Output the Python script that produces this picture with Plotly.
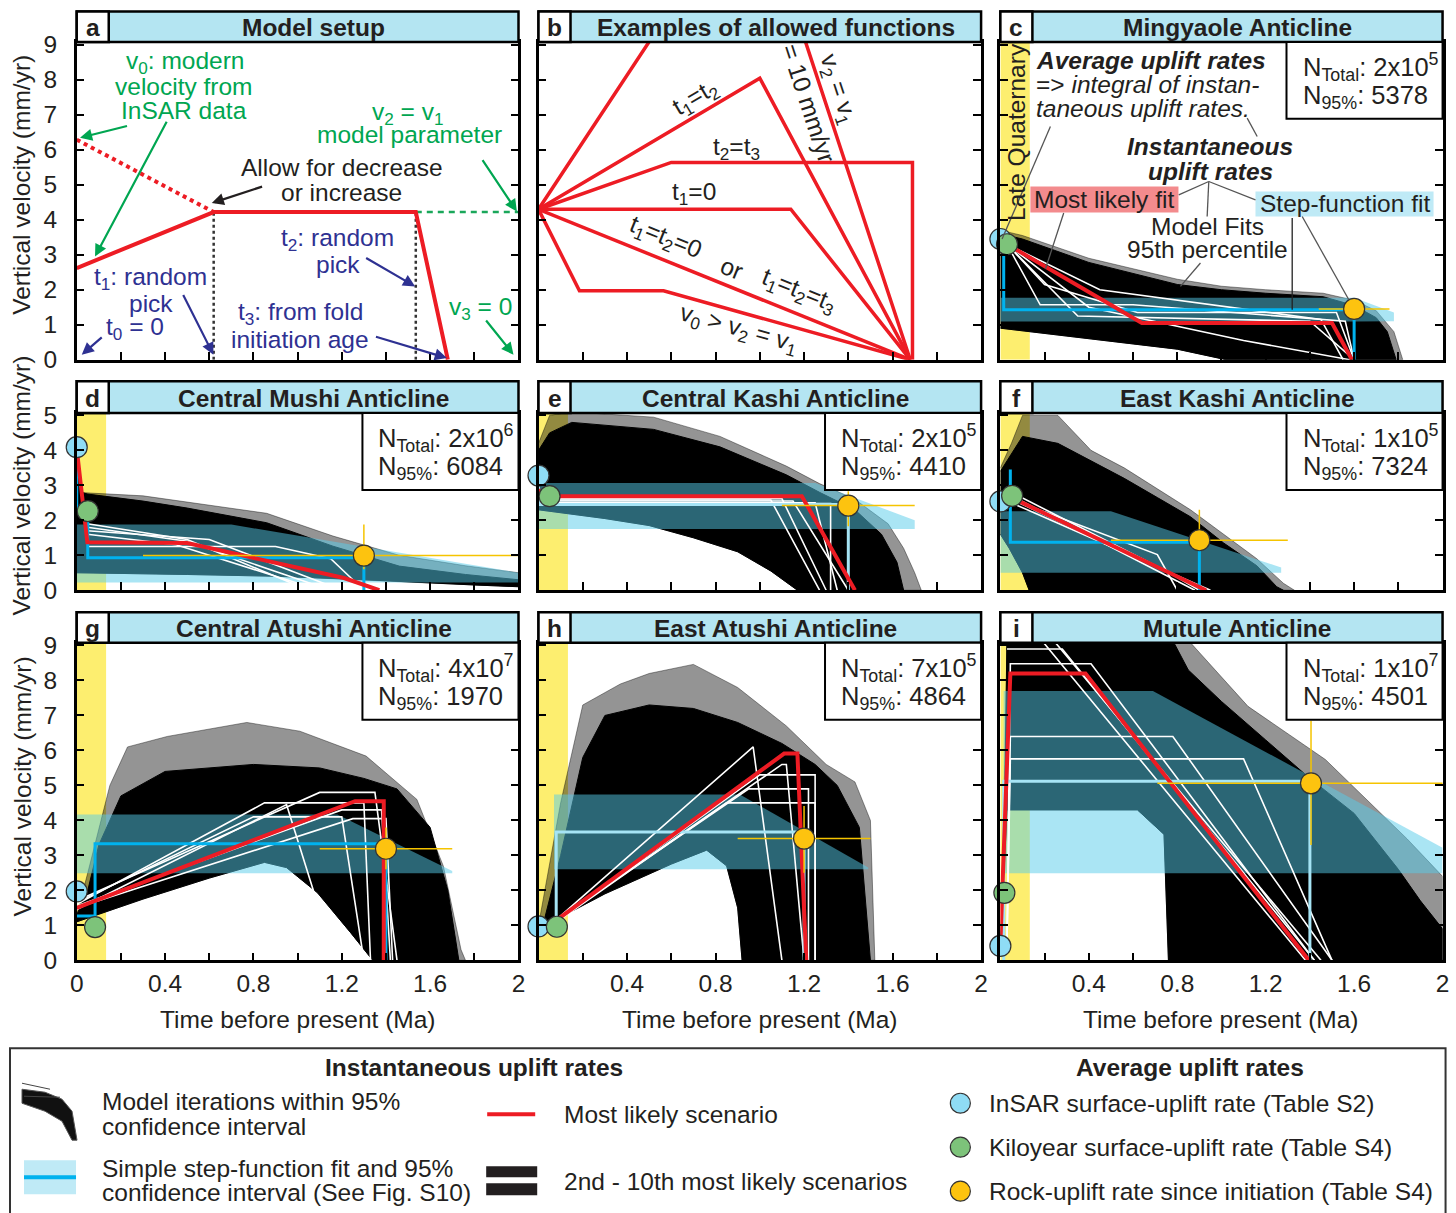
import plotly.graph_objects as go

W, H = 1456, 1213
# mapping between the photographed picture and page pixels (measured)
SX, OX = 0.990, 7.0
SY, OY = 0.980, 11.1
FONT = "Liberation Sans, Arial, Helvetica, sans-serif"
FS = 24.5
TXT = "#231f20"
GREEN_T = "#00a651"
BLUE_T = "#2e3192"
RED = "#ed1c24"
BAR_BLUE = "#b4e5f2"
BAND_FILL = "rgba(86,204,234,0.5)"
HALO_FILL = "rgba(0,0,0,0.42)"
YELLOW_LQ = "#fdee6f"

# ---------------- data ----------------
PANEL_LETTERS = ["a", "b", "c", "d", "e", "f", "g", "h", "i"]
PANEL_TITLES = ["Model setup", "Examples of allowed functions", "Mingyaole Anticline",
                "Central Mushi Anticline", "Central Kashi Anticline", "East Kashi Anticline",
                "Central Atushi Anticline", "East Atushi Anticline", "Mutule Anticline"]
X_TICKS = [0, 0.2, 0.4, 0.6, 0.8, 1.0, 1.2, 1.4, 1.6, 1.8, 2.0]
X_TICK_LABELS = ["0", "", "0.4", "", "0.8", "", "1.2", "", "1.6", "", "2"]
Y_TICKS_TALL = [0, 1, 2, 3, 4, 5, 6, 7, 8, 9]
Y_TICKS_SHORT = [0, 1, 2, 3, 4, 5]

# panel a: model setup
SETUP_T = [0, 0.62, 1.535, 1.68]
SETUP_V = [2.62, 4.22, 4.22, 0]
V0_T = [0, 0.62]
V0_V = [6.29, 4.22]
V2_T = [1.535, 2.0]
V2_V = [4.22, 4.22]
T1_T = [0.62, 0.62]
T2_T = [1.535, 1.535]
T_MARK_V = [0, 4.22]

# panel b: allowed functions
FUNC_T = [[0, 0.595, 1.159, 1.68], [0, 1.0, 1.68], [0, 0.6, 1.69, 1.69],
          [0, 1.14, 1.68], [0, 1.68], [0, 0.185, 0.565, 1.68]]
FUNC_V = [[4.3, 10, 10, 0], [4.3, 8.05, 0], [4.3, 5.64, 5.64, 0],
          [4.3, 4.3, 0], [4.3, 0], [4.3, 1.97, 1.97, 0]]

# panels c..i
N_TOTAL = [("2", "5"), ("2", "6"), ("2", "5"), ("1", "5"), ("4", "7"), ("7", "5"), ("1", "7")]
N_95 = ["5378", "6084", "4410", "7324", "1970", "4864", "4501"]
LQ_T = [0, 0.133]
LQ_V = [0, 10]

CORE_UX = [[0, 0.1, 0.4, 0.8, 1.0, 1.2, 1.46, 1.6, 1.7, 1.75, 1.79],
           [0, 0.02, 0.05, 0.3, 0.5, 0.86, 1.16, 1.46, 1.76, 2.0],
           [0, 0.05, 0.15, 0.52, 0.82, 1.12, 1.27, 1.43, 1.55, 1.62, 1.65],
           [0, 0.05, 0.1, 0.26, 0.41, 0.56, 0.71, 0.86, 1.01, 1.16, 1.25, 1.28],
           [0, 0.05, 0.1, 0.2, 0.4, 0.8, 1.1, 1.3, 1.45, 1.6, 1.68, 1.73],
           [0, 0.02, 0.1, 0.2, 0.3, 0.5, 0.7, 0.9, 1.1, 1.25, 1.35, 1.45, 1.5],
           [0.0, 0.02, 0.03, 0.75, 0.85, 1.0, 1.2, 1.4, 1.6, 1.8, 1.9, 2.0]]
CORE_UY = [[3.6, 3.45, 2.78, 2.15, 2.0, 1.9, 1.8, 1.55, 1.2, 0.8, 0],
           [4.0, 2.8, 2.75, 2.55, 2.35, 1.93, 1.26, 0.69, 0.45, 0.3],
           [4.0, 4.5, 4.8, 4.6, 4.1, 3.3, 2.8, 2.3, 1.6, 0.8, 0],
           [3.4, 3.9, 4.4, 4.2, 3.7, 3.2, 2.65, 2.1, 1.35, 0.7, 0.1, 0],
           [1.3, 2.0, 3.3, 4.7, 5.4, 5.6, 5.5, 5.2, 4.9, 3.8, 2.0, 0],
           [0.9, 1.0, 3.0, 5.8, 7.0, 7.3, 7.2, 6.8, 6.2, 5.6, 5.0, 3.8, 0],
           [0.3, 4.3, 9.5, 9.5, 8.3, 7.4, 6.3, 5.2, 4.2, 2.6, 1.7, 0.9]]
CORE_LX = [[0, 0.4, 0.8, 1.02, 1.79],
           [0, 0.5, 0.9, 1.3, 1.8, 2.0],
           [0, 0.3, 0.5, 0.7, 0.9, 1.05, 1.17, 1.65],
           [0, 0.04, 0.1, 0.13, 1.28],
           [0, 0.3, 0.6, 0.85, 0.95, 1.09, 1.24, 1.34, 1.73],
           [0, 0.3, 0.6, 0.76, 0.85, 0.9, 0.92, 1.5],
           [0.0, 0.03, 0.62, 0.74, 0.76, 2.0]]
CORE_LY = [[0.9, 0.6, 0.3, 0, 0],
           [0.5, 0.45, 0.4, 0.3, 0.15, 0.1],
           [2.3, 2.05, 1.85, 1.5, 1.1, 0.55, 0, 0],
           [1.6, 1.2, 0.5, 0, 0],
           [1.1, 1.75, 2.35, 2.8, 2.65, 1.93, 0.79, 0, 0],
           [0.9, 1.9, 2.75, 3.15, 2.7, 1.5, 0, 0],
           [0.3, 4.3, 4.3, 3.6, 0, 0]]
HALO_UX = [[0, 0.1, 0.4, 0.8, 1.0, 1.2, 1.46, 1.6, 1.7, 1.78, 1.82],
           [0, 0.3, 0.86, 1.16, 1.46, 1.76, 2.0],
           [0, 0.05, 0.15, 0.52, 0.82, 1.12, 1.27, 1.43, 1.58, 1.65, 1.7, 1.73],
           [0, 0.05, 0.1, 0.26, 0.41, 0.56, 0.71, 0.86, 1.01, 1.16, 1.28, 1.33],
           [0, 0.05, 0.15, 0.23, 0.41, 0.77, 1.01, 1.31, 1.54, 1.66, 1.74, 1.76],
           [0, 0.1, 0.2, 0.37, 0.5, 0.7, 0.9, 1.12, 1.3, 1.43, 1.5, 1.52],
           [0.03, 0.8, 1.12, 1.47, 1.84, 2.0]]
HALO_UY = [[3.7, 3.55, 2.9, 2.3, 2.1, 2.0, 1.9, 1.7, 1.4, 0.8, 0],
           [2.8, 2.7, 2.2, 1.55, 1.0, 0.7, 0.5],
           [4.2, 5.0, 5.1, 4.95, 4.4, 3.55, 3.05, 2.6, 1.9, 1.2, 0.5, 0],
           [3.5, 4.2, 5.0, 5.0, 4.0, 3.5, 2.9, 2.3, 1.6, 0.9, 0.2, 0],
           [1.3, 2.5, 5.0, 6.1, 6.4, 6.8, 6.55, 5.84, 4.6, 2.69, 0.3, 0],
           [1.0, 4.5, 7.3, 7.9, 8.2, 8.46, 7.8, 6.7, 5.6, 5.1, 4.0, 0],
           [9.5, 9.5, 7.26, 5.74, 3.47, 2.4]]

BAND_T = [[0, 1.6, 1.78], [0.0, 0.7, 2.0], [0.0, 1.25, 1.7], [0.0, 0.5, 1.27],
          [0.0, 1.18, 1.70], [0.07, 0.91, 1.49], [0.015, 0.69, 2.0]]
BAND_TOP = [[1.77, 1.77, 1.35], [1.88, 1.88, 0.5], [3.07, 3.07, 2.0], [2.26, 2.26, 0.65],
            [4.17, 4.17, 2.55], [4.74, 4.74, 2.65], [7.7, 7.7, 3.22]]
BAND_BOT = [[1.09, 1.09, 1.1], [0.22, 0.22, 0.22], [1.75, 1.75, 1.75], [0.5, 0.5, 0.5],
            [2.49, 2.49, 2.49], [2.6, 2.6, 2.6], [2.49, 2.49, 2.49]]

STEP_T = [[0.015, 0.015, 1.6, 1.6], [0, 0, 0.05, 0.05, 1.3, 1.3], [0, 0, 1.40, 1.40],
          [0.045, 0.045, 0.9, 0.9], [0, 0.083, 0.083, 1.40, 1.40], [0.08, 0.08, 1.2, 1.2],
          [0.015, 0.015, 1.40, 1.40]]
STEP_V = [[3.4, 1.43, 1.43, 0], [4.05, 2.3, 2.3, 0.93, 0.93, 0], [3.28, 2.45, 2.45, 0],
          [3.45, 1.37, 1.37, 0], [1.27, 1.27, 3.33, 3.33, 0], [0.94, 3.67, 3.67, 0],
          [0, 5.12, 5.12, 0]]
STEP_COLOR = ["#00b2ee", "#00b2ee", "#a6e4f5", "#00b2ee", "#00b2ee", "#a6e4f5", "#a6e4f5"]

RED_T = [[0.03, 0.64, 1.5, 1.59], [0, 0.048, 0.5, 1.21, 1.37], [0, 0, 1.19, 1.43],
         [0.05, 0.93], [0, 1.26, 1.39, 1.39], [0.06, 1.11, 1.17, 1.21], [0.0, 0.045, 0.385, 1.395]]
RED_V = [[3.3, 1.05, 1.05, 0], [4.05, 1.37, 1.35, 0.35, 0], [2.9, 2.69, 2.69, 0],
         [2.65, 0], [1.5, 4.55, 4.55, 0], [1.05, 5.91, 5.91, 0], [0.5, 8.2, 8.2, 0]]

WHITE_T = [
    [[0.03, 0.2, 0.62, 1.52, 1.6], [0.03, 0.18, 0.6, 1.56, 1.6], [0.03, 0.4, 1.1, 1.58],
     [0.03, 0.35, 1.4, 1.6], [0.03, 0.45, 1.45, 1.55]],
    [[0.048, 0.5, 1.15], [0.048, 0.45, 1.1], [0.048, 0.9, 1.15, 1.3], [0.048, 0.5, 1.05],
     [0.048, 0.6, 1.2]],
    [[0, 1.1, 1.3], [0, 1.15, 1.4], [0, 1.25, 1.35], [0, 1.05, 1.27], [0, 1.32, 1.32]],
    [[0.05, 0.88], [0.05, 0.92], [0.05, 0.71, 0.8], [0.05, 0.75, 0.9], [0.05, 0.95]],
    [[0, 0.85, 1.3, 1.33], [0, 1.1, 1.35, 1.45], [0, 1.2, 1.38, 1.42], [0, 0.8, 1.2, 1.3],
     [0, 1.25, 1.4, 1.43], [0, 0.95, 1.17]],
    [[0.06, 0.97, 1.1], [0.06, 1.1, 1.12, 1.2], [0.06, 1.0, 1.25, 1.25],
     [0.06, 0.95, 1.22, 1.22], [0.06, 0.85, 1.25, 1.25]],
    [[0.03, 0.045, 0.41, 1.42], [0.03, 0.045, 0.78, 1.5], [0.03, 0.045, 1.1, 1.5],
     [0.03, 0.18, 1.38], [0.03, 0.22, 1.45], [0.03, 0.28, 1.42]],
]
WHITE_V = [
    [[3.3, 2.15, 1.35, 1.35, 0], [3.3, 1.57, 1.57, 1.1, 0], [3.3, 1.5, 0.55, 0],
     [3.3, 1.25, 1.1, 0], [3.3, 2.0, 1.15, 0]],
    [[1.8, 1.4, 0], [1.6, 1.3, 0], [1.25, 1.25, 0.9, 0], [1.9, 1.45, 0], [1.7, 1.45, 0]],
    [[2.62, 2.62, 0], [2.55, 2.55, 0], [2.5, 2.5, 0], [2.58, 2.58, 0], [2.48, 2.48, 0]],
    [[2.7, 0], [2.8, 0], [2.6, 1.02, 0], [2.6, 0.55, 0], [2.5, 0]],
    [[1.6, 4.5, 4.5, 0], [1.7, 4.8, 4.8, 0], [1.55, 4.3, 4.3, 0], [1.65, 4.1, 4.1, 0],
     [1.5, 4.05, 4.05, 0], [1.45, 4.45, 0]],
    [[1.05, 6.1, 0], [1.05, 5.6, 5.6, 0], [1.05, 5.3, 5.3, 0], [1.05, 4.9, 4.9, 0],
     [1.0, 4.5, 4.5, 0]],
    [[0.5, 8.48, 8.48, 0], [0.5, 6.4, 6.4, 0], [0.5, 5.76, 5.76, 0], [9.2, 9.2, 0],
     [9.3, 9.3, 0], [8.9, 8.9, 0]],
]

INSAR_T = [0, 0, 0, 0, 0, 0, 0]
INSAR_V = [3.45, 4.09, 3.28, 2.54, 1.97, 0.97, 0.41]
KYR_T = [0.03, 0.05, 0.05, 0.053, 0.083, 0.083, 0.018]
KYR_V = [3.3, 2.26, 2.69, 2.7, 0.95, 0.96, 1.93]
ROCK_T = [1.60, 1.30, 1.40, 0.90, 1.40, 1.20, 1.405]
ROCK_V = [1.45, 0.99, 2.42, 1.43, 3.19, 3.48, 5.06]
ROCK_T_ERR = [(1.44, 1.76), (0.3, 2.05), (1.10, 1.70), (0.50, 1.30), (1.10, 1.70), (0.90, 1.50), (0.71, 2.05)]
ROCK_V_ERR = [(1.14, 1.7), (0.6, 1.88), (1.83, 2.83), (1.16, 2.3), (2.6, 3.8), (2.5, 4.41), (3.3, 6.85)]

# ---------------- geometry (picture pixels) ----------------
COL_X = [(76.7, 518.3), (538.3, 980.7), (1000.0, 1442.0)]
ROW_Y = [(42.0, 360.0), (413.3, 590.7), (643.3, 961.0)]
BAR_TOP = [11.7, 381.7, 612.7]
Y_MAX = [9.086, 5.07, 9.077]


def px(x):
    return ((x - OX) / SX) / W


def py(y):
    return 1 - ((y - OY) / SY) / H


fig = go.Figure()
shapes = []
annotations = []


def T(x, y, text, size=FS, color=TXT, xanchor="center", angle=0):
    annotations.append(dict(x=px(x), y=py(y), xref="paper", yref="paper", text=text,
                            showarrow=False, xanchor=xanchor, yanchor="middle",
                            textangle=angle, font=dict(size=size, color=color, family=FONT)))


def A(tx, ty, hx, hy, color):
    annotations.append(dict(x=px(hx), y=py(hy), xref="paper", yref="paper",
                            ax=(tx - hx) / SX, ay=(ty - hy) / SY, axref="pixel", ayref="pixel",
                            text="", showarrow=True, arrowhead=2, arrowsize=1.1,
                            arrowwidth=2.2, arrowcolor=color, standoff=0))


def LINE(x0, y0, x1, y1, color="#555", width=1.3):
    shapes.append(dict(type="line", xref="paper", yref="paper", x0=px(x0), y0=py(y0),
                       x1=px(x1), y1=py(y1), line=dict(color=color, width=width), layer="above"))


def RECT(x0, y0, x1, y1, fill, lc=None, lw=0):
    shapes.append(dict(type="rect", xref="paper", yref="paper", x0=px(x0), y0=py(y0),
                       x1=px(x1), y1=py(y1), fillcolor=fill,
                       line=dict(color=lc if lc else fill, width=lw), layer="above"))


layout = dict(width=W, height=H, margin=dict(l=0, r=0, t=0, b=0),
              paper_bgcolor="white", plot_bgcolor="white", showlegend=False,
              font=dict(family=FONT, size=FS, color=TXT))

axid = []
for k in range(9):
    r, c = divmod(k, 3)
    xl, xr = COL_X[c]
    yt, yb = ROW_Y[r]
    xn = "xaxis" if k == 0 else f"xaxis{k + 1}"
    yn = "yaxis" if k == 0 else f"yaxis{k + 1}"
    xid = "x" if k == 0 else f"x{k + 1}"
    yid = "y" if k == 0 else f"y{k + 1}"
    axid.append((xid, yid))
    if r == 2:
        xt = list(X_TICK_LABELS)
        if c > 0:
            xt[0] = ""
    else:
        xt = [""] * len(X_TICKS)
    yv = Y_TICKS_SHORT if r == 1 else Y_TICKS_TALL
    ytxt = [str(v) for v in yv] if c == 0 else [""] * len(yv)
    layout[xn] = dict(domain=[px(xl), px(xr)], range=[0, 2], anchor=yid, showline=True,
                      linecolor="black", linewidth=2.5, mirror=True, ticks="inside",
                      ticklen=8, tickwidth=2, tickcolor="black", tickmode="array",
                      tickvals=X_TICKS, ticktext=xt, showgrid=False, zeroline=False,
                      tickfont=dict(size=FS, color=TXT, family=FONT), fixedrange=True)
    layout[yn] = dict(domain=[py(yb), py(yt)], range=[0, Y_MAX[r]], anchor=xid, showline=True,
                      linecolor="black", linewidth=2.5, mirror="ticks", ticks="inside",
                      ticklen=8, tickwidth=2, tickcolor="black", tickmode="array",
                      tickvals=yv, ticktext=ytxt, showgrid=False, zeroline=False,
                      ticklabelstandoff=12,
                      tickfont=dict(size=FS, color=TXT, family=FONT), fixedrange=True)
    RECT(xl, BAR_TOP[r], xr, yt, BAR_BLUE, "black", 2.5)
    RECT(xl, BAR_TOP[r], xl + 32, yt, "white", "black", 2.5)
    cy = (BAR_TOP[r] + yt) / 2
    T(xl + 16, cy + 1, f"<b>{PANEL_LETTERS[k]}</b>")
    T((xl + 32 + xr) / 2, cy + 1, f"<b>{PANEL_TITLES[k]}</b>")


def add(k, **kw):
    xid, yid = axid[k]
    kw.setdefault("hoverinfo", "skip")
    fig.add_trace(go.Scatter(xaxis=xid, yaxis=yid, **kw))


# ---------- panel a ----------
add(0, x=T1_T, y=T_MARK_V, mode="lines", line=dict(color="#333", width=2.5, dash="dot"))
add(0, x=T2_T, y=T_MARK_V, mode="lines", line=dict(color="#333", width=2.5, dash="dot"))
add(0, x=V0_T, y=V0_V, mode="lines", line=dict(color=RED, width=4, dash="dot"))
add(0, x=V2_T, y=V2_V, mode="lines", line=dict(color="#1aa75a", width=2.5, dash="6px,5px"))
add(0, x=SETUP_T, y=SETUP_V, mode="lines", line=dict(color=RED, width=4))

T(185, 62.7, "v<sub>0</sub>: modern", color=GREEN_T)
T(184.3, 86.7, "velocity from", color=GREEN_T)
T(184.3, 110.7, "InSAR data", color=GREEN_T)
A(128, 126, 80, 138, GREEN_T)
A(166.7, 123.3, 95, 256.7, GREEN_T)
T(408.3, 113.3, "v<sub>2</sub> = v<sub>1</sub>", color=GREEN_T)
T(409.3, 135, "model parameter", color=GREEN_T)
A(481.7, 160, 516.7, 211.7, GREEN_T)
T(341.7, 167.3, "Allow for decrease", color=TXT)
T(341.7, 192.7, "or increase", color=TXT)
A(263, 186.7, 211.7, 203.3, TXT)
T(337.3, 240, "t<sub>2</sub>: random", color=BLUE_T)
T(338.3, 265, "pick", color=BLUE_T)
A(365, 258, 415, 286.7, BLUE_T)
T(150, 278.3, "t<sub>1</sub>: random", color=BLUE_T)
T(150.7, 303.3, "pick", color=BLUE_T)
A(182.7, 295, 213.3, 355, BLUE_T)
T(135, 328.3, "t<sub>0</sub> = 0", color=BLUE_T)
A(103, 336.7, 81.7, 355, BLUE_T)
T(300, 313.3, "t<sub>3</sub>: from fold", color=BLUE_T)
T(300, 340, "initiation age", color=BLUE_T)
A(375, 337, 446.7, 358.3, BLUE_T)
T(480.7, 308.3, "v<sub>3</sub> = 0", color=GREEN_T)
A(485, 320, 513.3, 355, GREEN_T)

# ---------- panel b ----------
for ft, fv in zip(FUNC_T, FUNC_V):
    add(1, x=ft, y=fv, mode="lines", line=dict(color=RED, width=3.5))
T(695, 98.3, "t<sub>1</sub>=t<sub>2</sub>", angle=-30.7)
T(736, 148.3, "t<sub>2</sub>=t<sub>3</sub>")
T(693.3, 194, "t<sub>1</sub>=0")
T(665, 238.3, "t<sub>1</sub>=t<sub>2</sub>=0", angle=22)
T(731.7, 268.3, "or", angle=22)
T(798.3, 291.7, "t<sub>1</sub>=t<sub>2</sub>=t<sub>3</sub>", angle=22)
T(738.3, 330, "v<sub>0</sub> > v<sub>2</sub> = v<sub>1</sub>", angle=15.6)
T(808.3, 103.3, "= 10 mm/yr", angle=71.8)
T(837, 90, "v<sub>2</sub> = v<sub>1</sub>", angle=71.8)

# ---------- panels c..i ----------
for i in range(7):
    k = i + 2
    r, c = divmod(k, 3)
    xl, xr = COL_X[c]
    yt, yb = ROW_Y[r]
    add(k, x=[LQ_T[0], LQ_T[1], LQ_T[1], LQ_T[0]], y=[LQ_V[0], LQ_V[0], LQ_V[1], LQ_V[1]],
        mode="lines", fill="toself", fillcolor=YELLOW_LQ, line=dict(width=0))
    add(k, x=HALO_UX[i] + CORE_LX[i][::-1], y=HALO_UY[i] + CORE_LY[i][::-1],
        mode="lines", fill="toself", fillcolor=HALO_FILL, line=dict(color="rgba(0,0,0,0.5)", width=0.8))
    add(k, x=CORE_UX[i] + CORE_LX[i][::-1], y=CORE_UY[i] + CORE_LY[i][::-1],
        mode="lines", fill="toself", fillcolor="black", line=dict(color="black", width=1))
    add(k, x=BAND_T[i] + BAND_T[i][::-1], y=BAND_TOP[i] + BAND_BOT[i][::-1],
        mode="lines", fill="toself", fillcolor=BAND_FILL, line=dict(width=0))
    for wt, wv in zip(WHITE_T[i], WHITE_V[i]):
        add(k, x=wt, y=wv, mode="lines", line=dict(color="white", width=1.6))
    add(k, x=STEP_T[i], y=STEP_V[i], mode="lines", line=dict(color=STEP_COLOR[i], width=3))
    add(k, x=RED_T[i], y=RED_V[i], mode="lines", line=dict(color=RED, width=4))
    add(k, x=list(ROCK_T_ERR[i]), y=[ROCK_V[i], ROCK_V[i]], mode="lines",
        line=dict(color="#f5c400", width=1.5))
    add(k, x=[ROCK_T[i], ROCK_T[i]], y=list(ROCK_V_ERR[i]), mode="lines",
        line=dict(color="#f5c400", width=1.5))
    for mt, mv, col in ((INSAR_T[i], INSAR_V[i], "#8fdcf5"), (KYR_T[i], KYR_V[i], "#7dc37a"),
                        (ROCK_T[i], ROCK_V[i], "#fdc30f")):
        add(k, x=[mt], y=[mv], mode="markers", cliponaxis=False,
            marker=dict(size=21, color=col, line=dict(color="#333", width=1.2)))
    RECT(xr - 156, yt, xr, yt + 77, "white", "black", 2)
    T(xr - 142, yt + 25, f"N<sub>Total</sub>: {N_TOTAL[i][0]}x10<sup>{N_TOTAL[i][1]}</sup>",
      size=25.5, xanchor="left")
    T(xr - 142, yt + 55, f"N<sub>95%</sub>: {N_95[i]}", size=25.5, xanchor="left")

# panel c annotations
T(1016, 131.7, "Late Quaternary", angle=-90)
T(1033.3, 60.7, "<b><i>Average uplift rates</i></b>", xanchor="left")
T(1033.3, 85, "=> <i>integral of instan-</i>", xanchor="left")
T(1033.3, 108.3, "<i>taneous uplift rates.</i>", xanchor="left")
T(1210, 146.7, "<b><i>Instantaneous</i></b>")
T(1210, 171.7, "<b><i>uplift rates</i></b>")
RECT(1030, 186.7, 1178, 212.7, "#f38b8d")
T(1104, 199.7, "Most likely fit")
RECT(1255, 191.7, 1433, 216.7, "#bfeaf6")
T(1344, 204, "Step-function fit")
T(1206.7, 226.7, "Model Fits")
T(1206.7, 250, "95th percentile")
LINE(1050, 126.7, 1001.7, 239.3)
LINE(1246.7, 118.3, 1256.7, 136.7)
LINE(1208.3, 181.7, 1178.3, 195)
LINE(1208.3, 181.7, 1206.7, 216.7)
LINE(1208.3, 181.7, 1255, 200)
LINE(1063.3, 213.3, 1045, 269.3)
LINE(1200, 263.3, 1180, 286.7)
LINE(1291.7, 218.3, 1291.7, 310, color="#222", width=1.3)
LINE(1301.7, 216.7, 1348.3, 300)

# axis titles
for yc in (185, 486, 787):
    T(22, yc, "Vertical velocity (mm/yr)", angle=-90)
for xc in (297.5, 759.5, 1221):
    T(xc, 1020, "Time before present (Ma)")

# ---------- legend ----------
shapes.append(dict(type="rect", xref="paper", yref="paper", x0=px(10), y0=py(1049), x1=px(1445),
                   y1=py(1240), line=dict(color="#333", width=2), fillcolor="rgba(0,0,0,0)", layer="above"))
T(474, 1068, "<b>Instantaneous uplift rates</b>")
T(1190, 1068, "<b>Average uplift rates</b>")
T(100, 1102, "Model iterations within 95%", xanchor="left")
T(100, 1127, "confidence interval", xanchor="left")
T(100, 1169, "Simple step-function fit and 95%", xanchor="left")
T(100, 1193, "confidence interval (See Fig. S10)", xanchor="left")
T(562, 1115, "Most likely scenario", xanchor="left")
T(562, 1182, "2nd - 10th most likely scenarios", xanchor="left")
T(987, 1104, "InSAR surface-uplift rate (Table S2)", xanchor="left")
T(987, 1148, "Kiloyear surface-uplift rate (Table S4)", xanchor="left")
T(987, 1192, "Rock-uplift rate since initiation (Table S4)", xanchor="left")
shapes.append(dict(type="path", xref="paper", yref="paper",
                   path=f"M {px(22)},{py(1090)} L {px(45)},{py(1093)} L {px(62)},{py(1100)} "
                        f"L {px(72)},{py(1112)} L {px(77)},{py(1141)} L {px(72)},{py(1141)} "
                        f"L {px(62)},{py(1122)} L {px(45)},{py(1112)} L {px(22)},{py(1104)} Z",
                   fillcolor="#111", line=dict(color="#555", width=1), layer="above"))
LINE(22, 1084, 50, 1090, color="#444", width=1)
LINE(24, 1097, 60, 1098, color="#444", width=1)
RECT(24, 1161, 76, 1195, "#bfeaf6")
LINE(24, 1178, 76, 1178, color="#00b2ee", width=4)
LINE(487, 1115, 535, 1115, color=RED, width=4)
RECT(486, 1167, 537, 1178, "#231f20")
RECT(486, 1184, 537, 1196, "#231f20")
for yy, col in ((1104, "#8fdcf5"), (1148, "#7dc37a"), (1192, "#fdc30f")):
    shapes.append(dict(type="circle", xref="paper", yref="paper", x0=px(950), x1=px(970),
                       y0=py(yy - 10), y1=py(yy + 10), fillcolor=col,
                       line=dict(color="#333", width=1.2), layer="above"))

layout["shapes"] = shapes
layout["annotations"] = annotations
fig.update_layout(**layout)

fig.write_html("out.html", config={"displayModeBar": False},
               post_script="document.body.style.margin='0';document.documentElement.style.overflow='hidden';")
